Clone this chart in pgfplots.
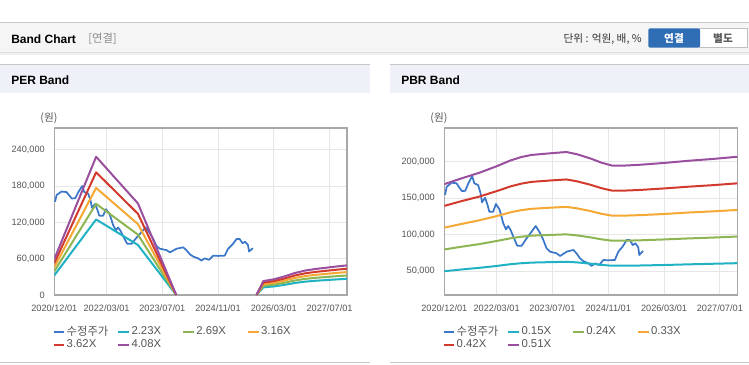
\documentclass[border=0pt]{standalone}
\usepackage{fontspec}
\setmainfont{Liberation Sans}
\newfontfamily\kr{Noto Sans CJK KR}
\usepackage{pgfplots}
\usepackage{pgfplotstable}
\pgfplotsset{compat=1.18}
\definecolor{cPrice}{HTML}{3B77C8}
\definecolor{cCyan}{HTML}{20B2C4}
\definecolor{cGreen}{HTML}{8DB553}
\definecolor{cOrange}{HTML}{F5A833}
\definecolor{cRed}{HTML}{D23A2E}
\definecolor{cPurple}{HTML}{9A4F9E}
\definecolor{cFrame}{HTML}{A8A8A8}
\definecolor{cGrid}{HTML}{E6E6E6}
\definecolor{cTick}{HTML}{555555}
\definecolor{cHead}{HTML}{F5F5F5}
\definecolor{cPanel}{HTML}{EEF2F8}
\definecolor{cLine}{HTML}{C8C8C8}
\definecolor{cBlue}{HTML}{2F6DB5}

\pgfplotstableread{
m p
0.2 154100
0.7 165500
2.1 171000
3.5 170100
5.0 159600
6.0 159800
6.9 170100
8.0 180100
8.6 170100
9.7 167800
10.4 156400
10.8 144100
11.7 150400
12.4 140400
12.9 131200
14.0 131000
14.8 141800
15.8 134500
16.4 124400
16.9 115300
17.7 107100
18.3 111600
19.0 106200
20.0 94800
20.9 84700
22.2 84700
23.4 93400
24.8 102500
26.2 111600
27.4 102500
28.4 92500
29.3 81100
30.3 76500
32.2 74200
33.2 70500
35.1 76500
37.0 78800
37.9 74200
38.9 67400
39.8 63700
41.3 60500
42.2 56900
43.2 60500
44.4 58200
45.6 65100
47.0 64600
48.9 65100
49.9 76500
51.1 83300
52.3 92500
53.2 92500
54.0 85600
54.8 87900
55.6 82400
55.9 71900
57.0 77400
}\price

\pgfplotstableread{
m a b c d e
0 32335 39005 45820 52490 59160
12 124880 150640 176960 202720 228480
24 82733 99799 117236 134302 151368
35 0 0 0 0 0
46 nan nan nan nan nan
58 0 0 0 0 0
60 12622 15225 17886 20489 23093
63 14161 17082 20066 22987 25908
66 16725 20175 23700 27150 30600
69 19847 23941 28124 32218 36312
72 22077 26631 31284 35838 40392
75 23527 28380 33338 38191 43044
78 24642 29725 34918 40001 45084
81 25757 31070 36498 41811 47124
84 26760 32280 37920 43440 48960
}\per

\pgfplotstableread{
m a b c d e
0 49700 79500 109400 139200 169000
5 52100 83300 114500 145800 177000
10 54300 86800 119400 151900 184500
15 56900 91100 125200 159400 193500
19 59300 94800 130400 165900 201500
22 60600 96900 133300 169600 206000
25 61500 98400 135200 172100 209000
31 62200 99500 136900 174200 211500
35 62600 100200 137800 175400 213000
38 61800 98800 135900 172900 210000
42 60000 96000 132000 168000 204000
45 58400 93400 128400 163500 198500
48 57200 91500 125900 160200 194500
52 57200 91500 125900 160200 194500
56 57500 92000 126500 161000 195500
63 58200 93200 128100 163100 198000
70 59100 94600 130100 165500 201000
77 59900 95800 131700 167600 203500
84 60700 97200 133600 170100 206500
}\pbr

\pgfplotsset{bandstyle/.style={
  scale only axis,
  axis line style={draw=cFrame, line width=0.9pt},
  grid=major, grid style={draw=cGrid, line width=0.6pt},
  major tick length=0pt,
  xmin=0, xmax=84,
  xtick={0,15,31,47,63,79},
  xticklabels={2020/12/01,2022/03/01,2023/07/01,2024/11/01,2026/03/01,2027/07/01},
  tick label style={font=\fontsize{6.9}{8}\selectfont, text=cTick},
  xticklabel style={yshift=-3.5pt},
  yticklabel style={xshift=-3.6pt, /pgf/number format/.cd, fixed, 1000 sep={,}},
  /pgf/number format/assume math mode=true,
  scaled y ticks=false,
  unbounded coords=jump,
  every axis plot/.append style={line width=1.5pt, line join=round},
  legend image code/.code={\draw[#1, line width=1.6pt] (0pt,0pt) -- (8pt,0pt);},
  legend style={draw=none, fill=none, font=\fontsize{8.5}{9.5}\selectfont, text=cTick,
    at={(0,0)}, anchor=north west, xshift=-4.5pt, yshift=-20.5pt,
    nodes={inner xsep=1pt, inner ysep=0.8pt},
    /tikz/every even column/.append style={column sep=0pt}},
  legend columns=4,
  legend cell align=left,
}}

\begin{document}
\begin{tikzpicture}
\useasboundingbox (0,0) rectangle (561.75pt,-273pt);
\begin{scope}[x=0.75pt, y=-0.75pt]
  % top header
  \fill[cHead] (0,22) rectangle (749,52);
  \draw[cLine, line width=0.75pt] (0,22.5) -- (749,22.5);
  \fill[black!13] (0,52) rectangle (749,53);
  \fill[black!6] (0,53) rectangle (749,54.5);
  \node[anchor=west, inner sep=0] at (11,39) {\fontsize{9}{10}\selectfont\bfseries Band Chart};
  \node[anchor=west, inner sep=0, text=black!45] at (88,39) {\kr\fontsize{8.5}{10}\selectfont [연결]};
  \node[anchor=east, inner sep=0, text=black!80] at (642,39) {\kr\fontsize{8}{10}\selectfont 단위 : 억원, 배, \%};
  \draw[black!25, fill=white, line width=0.6pt] (699,28.5) rectangle (747.5,47.7);
  \fill[cBlue, rounded corners=1.5pt] (648.3,28.3) rectangle (700,47.7);
  \node[text=white, inner sep=0] at (674,38) {\kr\fontsize{8}{10}\selectfont\bfseries 연결};
  \node[text=black!65, inner sep=0] at (723,38) {\kr\fontsize{8}{10}\selectfont\bfseries 별도};
  % panels
  \fill[cPanel] (0,64) rectangle (370,93);
  \fill[cPanel] (390,64) rectangle (749,93);
  \draw[cLine, line width=0.75pt] (0,64.5) -- (370,64.5);
  \draw[cLine, line width=0.75pt] (390,64.5) -- (749,64.5);
  \draw[cLine, line width=0.75pt] (0,362.5) -- (370,362.5);
  \draw[cLine, line width=0.75pt] (390,362.5) -- (749,362.5);
  \node[anchor=west, inner sep=0] at (11,80) {\fontsize{9}{10}\selectfont\bfseries PER Band};
  \node[anchor=west, inner sep=0] at (401,80) {\fontsize{9}{10}\selectfont\bfseries PBR Band};
  \node[text=cTick, inner sep=0] at (49,118) {\kr\fontsize{8}{10}\selectfont (원)};
  \node[text=cTick, inner sep=0] at (439,118) {\kr\fontsize{8}{10}\selectfont (원)};
\end{scope}

\begin{axis}[bandstyle,
  at={(40.725pt,-221.25pt)}, anchor=south west,
  width=219.5pt, height=125.25pt,
  ymin=0, ymax=276000,
  ytick={0,60000,120000,180000,240000}]
\addplot[cPrice, line width=1.3pt] table[x=m,y=p] {\price};
\addlegendentry{\makebox[37pt][l]{\kr 수정주가}}
\addplot[cCyan] table[x=m,y=a] {\per};
\addlegendentry{\makebox[37pt][l]{2.23X}}
\addplot[cGreen] table[x=m,y=b] {\per};
\addlegendentry{\makebox[37pt][l]{2.69X}}
\addplot[cOrange] table[x=m,y=c] {\per};
\addlegendentry{\makebox[37pt][l]{3.16X}}
\addplot[cRed] table[x=m,y=d] {\per};
\addlegendentry{\makebox[37pt][l]{3.62X}}
\addplot[cPurple] table[x=m,y=e] {\per};
\addlegendentry{\makebox[37pt][l]{4.08X}}
\end{axis}

\begin{axis}[bandstyle,
  at={(333.225pt,-221.25pt)}, anchor=south west,
  width=219.75pt, height=125.25pt,
  ymin=17100, ymax=245900,
  ytick={50000,100000,150000,200000}]
\addplot[cPrice, line width=1.3pt] table[x=m,y=p] {\price};
\addlegendentry{\makebox[37pt][l]{\kr 수정주가}}
\addplot[cCyan] table[x=m,y=a] {\pbr};
\addlegendentry{\makebox[37pt][l]{0.15X}}
\addplot[cGreen] table[x=m,y=b] {\pbr};
\addlegendentry{\makebox[37pt][l]{0.24X}}
\addplot[cOrange] table[x=m,y=c] {\pbr};
\addlegendentry{\makebox[37pt][l]{0.33X}}
\addplot[cRed] table[x=m,y=d] {\pbr};
\addlegendentry{\makebox[37pt][l]{0.42X}}
\addplot[cPurple] table[x=m,y=e] {\pbr};
\addlegendentry{\makebox[37pt][l]{0.51X}}
\end{axis}
\end{tikzpicture}
\end{document}
